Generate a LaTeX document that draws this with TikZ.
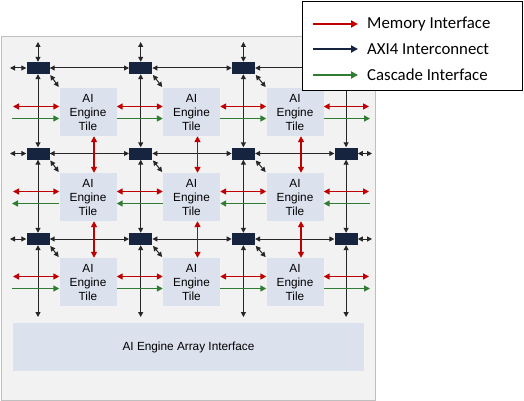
\documentclass[tikz,border=0pt]{standalone}
\usepackage{fontspec}
\setmainfont{Liberation Sans}
\newfontfamily\legendfont{Carlito}
\usetikzlibrary{arrows.meta}

\definecolor{swnavy}{HTML}{172440}
\definecolor{tileblue}{HTML}{DCE1EE}
\definecolor{memred}{HTML}{C00000}
\definecolor{casgreen}{HTML}{2E7D32}
\definecolor{bggray}{HTML}{F2F2F2}

\begin{document}
\begin{tikzpicture}[x=1pt, y=-1pt,
        switch/.style={rectangle, fill=swnavy, minimum width=23pt, minimum height=12pt, inner sep=0pt},
        tile/.style={rectangle, fill=tileblue, minimum width=57pt, minimum height=48pt, align=center,
            inner sep=0pt, font=\fontsize{11.8}{14}\selectfont},
        axi/.style={>={Triangle[length=5pt,width=5pt]}, <->, line width=1pt, black!85},
        mem/.style={>={Triangle[length=6pt,width=6pt]}, <->, line width=1.5pt, memred},
        cas/.style={>={Triangle[length=6pt,width=6pt]}, line width=1.5pt, casgreen},
        key/.style={>={Triangle[length=7pt,width=7pt]}, ->, line width=1.8pt},
        keylabel/.style={anchor=west, inner xsep=9pt, font=\legendfont\fontsize{16.8}{18}\selectfont}
    ]
        \useasboundingbox (0,0) rectangle (524,401);

        % Array background
        \draw[fill=bggray, draw=black!25] (1,36) rectangle (375,400);

        % Switches
        \foreach \r in {1,2,3}
            \foreach \c in {1,...,4}
                \node[switch] (sw\r\c) at ({38+102.7*(\c-1)}, {68+85.5*(\r-1)}) {};

        % AI Engine tiles
        \foreach \r in {1,2,3}
            \foreach \c in {1,2,3}
                \node[tile] (tile\r\c) at ({88+103.5*(\c-1)}, {112+85*(\r-1)}) {AI\\Engine\\Tile};

        % Array interface
        \node[rectangle, fill=tileblue, minimum width=351pt, minimum height=48pt,
            font=\fontsize{11.8}{14}\selectfont] (arrayif) at (188.5,347) {AI Engine Array Interface};

        % Free ends
        \foreach \r in {1,2,3} {
            \coordinate (axil\r) at (10, {68+85.5*(\r-1)});
            \coordinate (axir\r) at (372, {68+85.5*(\r-1)});
            \coordinate (meml\r) at (13, {106.5+85*(\r-1)});
            \coordinate (memr\r) at (369, {106.5+85*(\r-1)});
            \coordinate (casl\r) at (12, {118.5+85*(\r-1)});
            \coordinate (casr\r) at (370, {118.5+85*(\r-1)});
        }
        \foreach \c in {1,...,4} {
            \coordinate (axit\c) at ({38+102.7*(\c-1)}, 42);
            \coordinate (axib\c) at ({38+102.7*(\c-1)}, 317);
        }

        % AXI4 interconnect
        \foreach \r in {1,2,3} {
            \draw[axi] (axil\r) -- (sw\r1);
            \draw[axi] (sw\r1) -- (sw\r2);
            \draw[axi] (sw\r2) -- (sw\r3);
            \draw[axi] (sw\r3) -- (sw\r4);
            \draw[axi] (sw\r4) -- (axir\r);
        }
        \foreach \c in {1,...,4} {
            \draw[axi] (axit\c) -- (sw1\c);
            \draw[axi] (sw1\c) -- (sw2\c);
            \draw[axi] (sw2\c) -- (sw3\c);
            \draw[axi] (sw3\c) -- (axib\c);
        }
        \foreach \r in {1,2,3}
            \foreach \c in {1,2,3}
                \draw[axi, shorten <=1pt, shorten >=1pt] (sw\r\c.south east) -- (tile\r\c.north west);

        % Memory interface
        \foreach \r in {1,2,3} {
            \draw[mem] (meml\r) -- ([yshift=5.5pt]tile\r1.west);
            \draw[mem] ([yshift=5.5pt]tile\r1.east) -- ([yshift=5.5pt]tile\r2.west);
            \draw[mem] ([yshift=5.5pt]tile\r2.east) -- ([yshift=5.5pt]tile\r3.west);
            \draw[mem] ([yshift=5.5pt]tile\r3.east) -- (memr\r);
        }
        \foreach \c in {1,2,3} {
            \draw[mem] ([xshift=6pt]tile1\c.south) -- ([xshift=6pt]tile2\c.north);
            \draw[mem] ([xshift=6pt]tile2\c.south) -- ([xshift=6pt]tile3\c.north);
        }

        % Cascade interface
        \foreach \r/\dir in {1/->,2/<-,3/->} {
            \draw[cas, \dir] (casl\r) -- ([yshift=-6.5pt]tile\r1.west);
            \draw[cas, \dir] ([yshift=-6.5pt]tile\r1.east) -- ([yshift=-6.5pt]tile\r2.west);
            \draw[cas, \dir] ([yshift=-6.5pt]tile\r2.east) -- ([yshift=-6.5pt]tile\r3.west);
            \draw[cas, \dir] ([yshift=-6.5pt]tile\r3.east) -- (casr\r);
        }

        % Legend
        \draw[fill=white, draw=black, line width=0.8pt] (302,1) rectangle (522,90);
        \coordinate (memkey) at (313,24);
        \coordinate (axikey) at (313,49);
        \coordinate (caskey) at (313,75);
        \node[keylabel] (memlabel) at (358,24) {Memory Interface};
        \node[keylabel] (axilabel) at (358,49) {AXI4 Interconnect};
        \node[keylabel] (caslabel) at (358,75) {Cascade Interface};
        \draw[key, memred] (memkey) -- (memlabel.west);
        \draw[key, swnavy] (axikey) -- (axilabel.west);
        \draw[key, casgreen] (caskey) -- (caslabel.west);
    \end{tikzpicture}
\end{document}
